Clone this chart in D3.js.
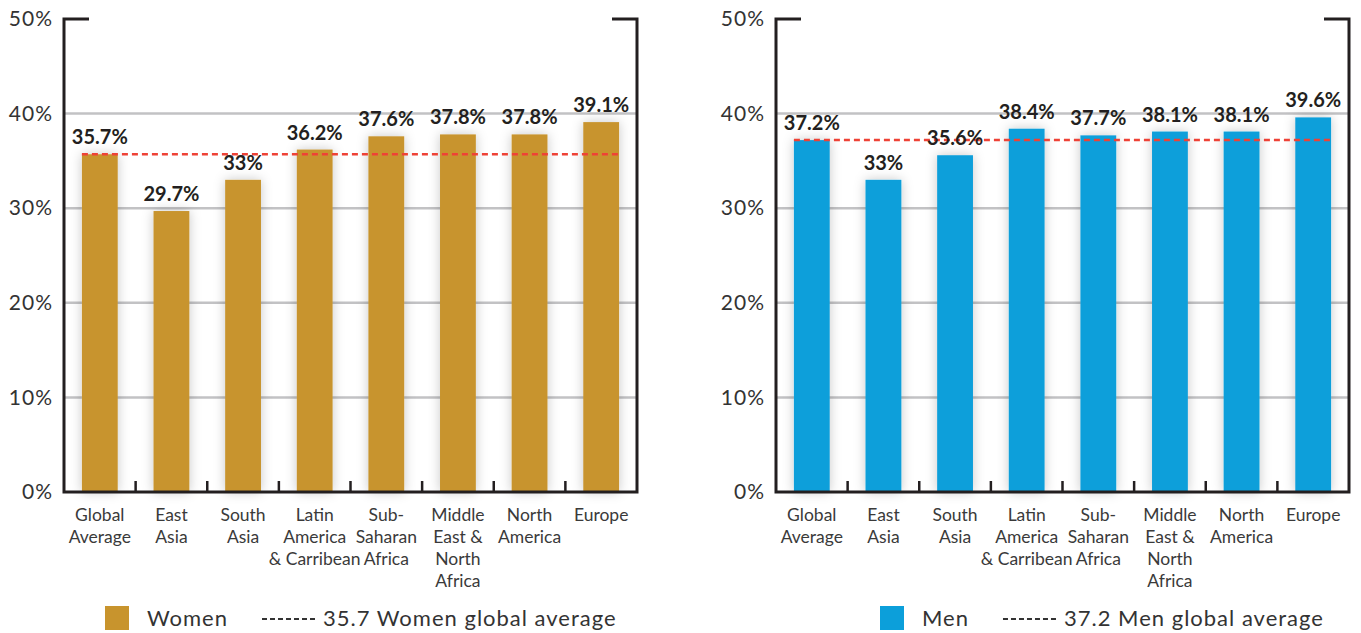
<!DOCTYPE html>
<html>
<head>
<meta charset="utf-8">
<script src="https://cdn.jsdelivr.net/npm/d3@7"></script>
<style>
  html, body { margin: 0; padding: 0; background: #fff; }
  svg { display: block; font-family: Lato, "Noto Sans", sans-serif; }
</style>
</head>
<body>
<svg id="chart" width="1361" height="633"></svg>
<script>
// ---- data ----
const categories = ["Global Average", "East Asia", "South Asia", "Latin America & Carribean",
  "Sub-Saharan Africa", "Middle East & North Africa", "North America", "Europe"];
const categoryLines = [
  ["Global", "Average"], ["East", "Asia"], ["South", "Asia"], ["Latin", "America", "& Carribean"],
  ["Sub-", "Saharan", "Africa"], ["Middle", "East &", "North", "Africa"], ["North", "America"], ["Europe"]
];
const womenValues = [35.7, 29.7, 33, 36.2, 37.6, 37.8, 37.8, 39.1];
const womenLabels = ["35.7%", "29.7%", "33%", "36.2%", "37.6%", "37.8%", "37.8%", "39.1%"];
const menValues = [37.2, 33, 35.6, 38.4, 37.7, 38.1, 38.1, 39.6];
const menLabels = ["37.2%", "33%", "35.6%", "38.4%", "37.7%", "38.1%", "38.1%", "39.6%"];
const womenAverage = 35.7;
const menAverage = 37.2;
const yTicks = [0, 10, 20, 30, 40, 50];
const seriesNames = ["Women", "Men"];
const averageLegend = ["35.7 Women global average", "37.2 Men global average"];

// ---- drawing ----
const svg = d3.select("#chart");
const defs = svg.append("defs");
const f = defs.append("filter").attr("id", "shadow")
  .attr("x", "-60%").attr("y", "-20%").attr("width", "220%").attr("height", "140%");
f.append("feDropShadow").attr("dx", 0).attr("dy", 0).attr("stdDeviation", 6)
  .attr("flood-color", "#000").attr("flood-opacity", 0.22);

const yTop = 19, yBottom = 492;
const y = d3.scaleLinear().domain([0, 50]).range([yBottom, yTop]);

function panel(opts) {
  const { x0, x1, values, labels, avg, color, name, avgText, legendX } = opts;
  const g = svg.append("g");
  const x = d3.scaleBand().domain(categories).range([x0, x1]).paddingInner(0.5).paddingOuter(0.25);

  // gridlines
  g.append("g").selectAll("line").data(yTicks.filter(t => t > 0 && t < 50)).join("line")
    .attr("x1", x0).attr("x2", x1).attr("y1", d => y(d)).attr("y2", d => y(d))
    .attr("stroke", "#c2c2c4").attr("stroke-width", 2.5);

  // y axis labels
  const ya = g.append("g").attr("transform", `translate(${x0},0)`)
    .call(d3.axisLeft(y).tickValues(yTicks).tickFormat(d => d + "%").tickSize(0).tickPadding(11));
  ya.select(".domain").remove();
  ya.selectAll("text").attr("font-family", "Lato, sans-serif").attr("font-size", 21)
    .attr("fill", "#333").attr("font-weight", 400).attr("letter-spacing", 1);

  // bars
  g.append("g").selectAll("rect").data(values).join("rect")
    .attr("x", (d, i) => x(categories[i])).attr("width", x.bandwidth())
    .attr("y", d => y(d)).attr("height", d => y(0) - y(d))
    .attr("fill", color).attr("filter", "url(#shadow)");

  // average dashed line
  g.append("line")
    .attr("x1", x(categories[0])).attr("x2", x(categories[categories.length - 1]) + x.bandwidth())
    .attr("y1", y(avg)).attr("y2", y(avg))
    .attr("stroke", "#ee4236").attr("stroke-width", 2.5).attr("stroke-dasharray", "6,4");

  // value labels
  g.append("g").selectAll("text").data(values).join("text")
    .attr("x", (d, i) => x(categories[i]) + x.bandwidth() / 2).attr("y", d => y(d) - 10)
    .attr("text-anchor", "middle").attr("font-size", 20).attr("font-weight", 700)
    .attr("fill", "#231f20").text((d, i) => labels[i]);

  // axes frame
  const axisColor = "#231f20";
  g.append("path")
    .attr("d", `M${x0 + 25},${yTop} H${x0} V${yBottom} H${x1} V${yTop} H${x1 - 25}`)
    .attr("fill", "none").attr("stroke", axisColor).attr("stroke-width", 3);
  // inner ticks on bottom axis
  g.append("g").selectAll("line").data(d3.range(1, categories.length)).join("line")
    .attr("x1", i => x0 + i * x.step()).attr("x2", i => x0 + i * x.step())
    .attr("y1", yBottom - 11).attr("y2", yBottom)
    .attr("stroke", axisColor).attr("stroke-width", 2.5);

  // category labels
  const cl = g.append("g").selectAll("text").data(categories).join("text")
    .attr("x", d => x(d) + x.bandwidth() / 2).attr("y", 521)
    .attr("text-anchor", "middle").attr("font-size", 17.5).attr("fill", "#3a3a3a");
  cl.each(function (d, i) {
    const t = d3.select(this);
    categoryLines[i].forEach((line, j) => {
      t.append("tspan").attr("x", x(d) + x.bandwidth() / 2).attr("y", 521 + j * 22).text(line);
    });
  });

  // legend
  const lg = g.append("g");
  lg.append("rect").attr("x", legendX).attr("y", 606).attr("width", 24).attr("height", 24).attr("fill", color);
  const t1 = lg.append("text").attr("x", legendX + 42).attr("y", 626)
    .attr("font-size", 22).attr("letter-spacing", 1).attr("fill", "#333").text(name);
  const w1 = t1.node().getComputedTextLength();
  const dx = legendX + 42 + w1 + 34;
  lg.append("line").attr("x1", dx).attr("x2", dx + 55).attr("y1", 619).attr("y2", 619)
    .attr("stroke", "#333").attr("stroke-width", 2).attr("stroke-dasharray", "5,3");
  lg.append("text").attr("x", dx + 61).attr("y", 626)
    .attr("font-size", 22).attr("letter-spacing", 1).attr("fill", "#333").text(avgText);
}

panel({ x0: 64, x1: 637, values: womenValues, labels: womenLabels, avg: womenAverage,
  color: "#c8942d", name: seriesNames[0], avgText: averageLegend[0], legendX: 105 });
panel({ x0: 776, x1: 1349, values: menValues, labels: menLabels, avg: menAverage,
  color: "#0c9fda", name: seriesNames[1], avgText: averageLegend[1], legendX: 880 });
</script>
</body>
</html>
